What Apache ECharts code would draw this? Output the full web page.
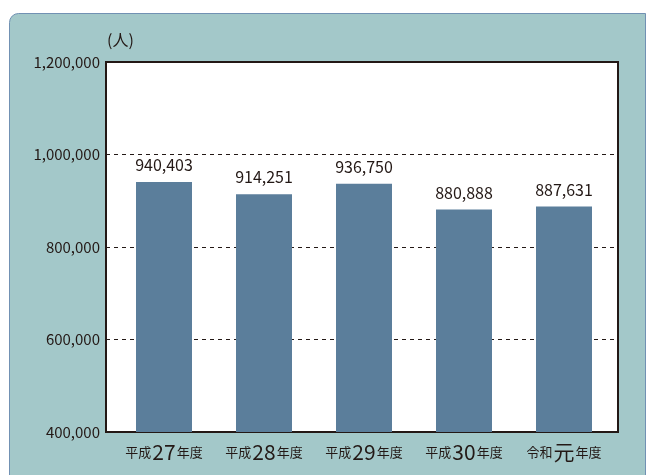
<!DOCTYPE html>
<html>
<head>
<meta charset="utf-8">
<script src="https://cdn.jsdelivr.net/npm/echarts@6/dist/echarts.min.js"></script>
<style>
html, body { margin: 0; padding: 0; background: #fff; }
#main { width: 646px; height: 475px; }
</style>
</head>
<body>
<div id="main"></div>
<script>
var eraLabels = ['平成', '平成', '平成', '平成', '令和'];
var yearLabels = ['27', '28', '29', '30', '元'];
var counts = [940403, 914251, 936750, 880888, 887631];
var yMin = 400000, yMax = 1200000, yStep = 200000;

var categories = [];
for (var i = 0; i < counts.length; i++) {
    categories.push(eraLabels[i] + yearLabels[i] + '年度');
}

var font = '"Noto Sans CJK JP", "Noto Sans", sans-serif';
var textColor = '#231815';

var myChart = echarts.init(document.getElementById('main'));
var option = {
    backgroundColor: '#ffffff',
    animation: false,
    graphic: [{
        type: 'rect',
        z: -10,
        shape: { x: 9.5, y: 13.5, width: 636, height: 480, r: [9, 0, 0, 0] },
        style: { fill: '#a3c8c9', stroke: '#7191b3', lineWidth: 1 }
    }, {
        type: 'text',
        left: 107, top: 32,
        style: { text: '(人)', fill: textColor, font: '16px ' + font }
    }],
    grid: [
        { left: 106, right: 28, top: 62, bottom: 43, show: true, backgroundColor: '#ffffff',
          borderColor: textColor, borderWidth: 2, z: 0 },
        { left: 114, right: 32, top: 62, bottom: 43 }
    ],
    xAxis: [
        { type: 'value', gridIndex: 0, show: false, min: 0, max: 1 },
        {
            type: 'category', gridIndex: 1, data: categories,
            axisLine: { show: false }, axisTick: { show: false },
            axisLabel: {
                margin: 10,
                interval: 0,
                formatter: function (v, idx) {
                    return '{s|' + eraLabels[idx] + '}{b|' + yearLabels[idx] + '}{s|年度}';
                },
                rich: {
                    s: { fontSize: 13, color: textColor, fontFamily: font },
                    b: { fontSize: 21, color: textColor, fontFamily: font, padding: [0, 1, 0, 1] }
                }
            }
        }
    ],
    yAxis: [
        {
            type: 'value', gridIndex: 0, min: yMin, max: yMax, interval: yStep,
            axisLine: { show: false }, axisTick: { show: false },
            axisLabel: {
                margin: 6, color: textColor, fontSize: 15, fontFamily: font,
                formatter: function (v) { return v.toLocaleString('en-US'); }
            },
            splitLine: { show: true, lineStyle: { color: '#231815', type: [4, 4], width: 1 } }
        },
        { type: 'value', gridIndex: 1, min: yMin, max: yMax, show: false }
    ],
    series: [{
        type: 'bar',
        xAxisIndex: 1,
        yAxisIndex: 1,
        data: counts,
        barWidth: 56,
        itemStyle: { color: '#5b7e9b' },
        label: {
            show: true, position: 'top', distance: 9,
            color: textColor, fontSize: 16, fontFamily: font,
            formatter: function (p) { return p.value.toLocaleString('en-US'); }
        }
    }]
};
myChart.setOption(option);
</script>
</body>
</html>
